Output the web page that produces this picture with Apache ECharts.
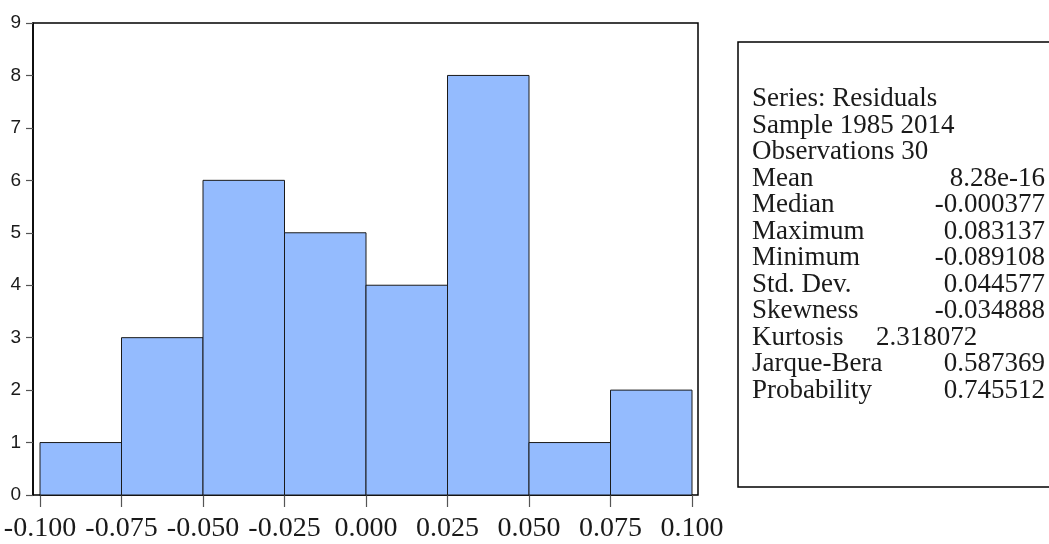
<!DOCTYPE html>
<html>
<head>
<meta charset="utf-8">
<script src="https://cdn.jsdelivr.net/npm/echarts@6/dist/echarts.min.js"></script>
<style>
  html, body { margin: 0; padding: 0; background: #fff; }
  #chart { width: 1049px; height: 544px; }
</style>
</head>
<body>
<div id="chart"></div>
<script>
// bin edges and counts of the residual histogram
const binStart = [-0.100, -0.075, -0.050, -0.025, 0.000, 0.025, 0.050, 0.075];
const binEnd = [-0.075, -0.050, -0.025, 0.000, 0.025, 0.050, 0.075, 0.100];
const counts = [1, 3, 6, 5, 4, 8, 1, 2];

// descriptive statistics panel
const statLabels = ["Series: Residuals", "Sample 1985 2014", "Observations 30", "Mean", "Median",
  "Maximum", "Minimum", "Std. Dev.", "Skewness", "Kurtosis", "Jarque-Bera", "Probability"];
const statValues = ["", "", "", "8.28e-16", "-0.000377", "0.083137", "-0.089108", "0.044577",
  "-0.034888", "2.318072", "0.587369", "0.745512"];

const serif = "'Liberation Serif', serif";

const chart = echarts.init(document.getElementById("chart"));

const histData = counts.map(function (c, i) { return [binStart[i], binEnd[i], c]; });

// stats text as graphic elements
const statGraphics = [{
  type: "rect",
  shape: { x: 738, y: 42, width: 330, height: 445 },
  style: { fill: "#fff", stroke: "#000", lineWidth: 1.5 }
}];
statLabels.forEach(function (lab, i) {
  const y = 99 + i * 26.5;
  statGraphics.push({
    type: "text", x: 752, y: y,
    style: { text: lab, font: "27px " + serif, fill: "#1a1a1a", verticalAlign: "middle", align: "left" }
  });
  if (statValues[i]) {
    const kurt = lab === "Kurtosis";
    statGraphics.push({
      type: "text", x: kurt ? 876 : 1045, y: y,
      style: { text: statValues[i], font: "27px " + serif, fill: "#1a1a1a", verticalAlign: "middle", align: kurt ? "left" : "right" }
    });
  }
});

const option = {
  animation: false,
  backgroundColor: "#fff",
  grid: [
    // frame + y axis
    { left: 33, right: 351, top: 23, bottom: 49, show: true, borderColor: "#000", borderWidth: 1.5, backgroundColor: "#fff" },
    // bars + x axis (bins span exactly -0.1 .. 0.1)
    { left: 40, right: 357, top: 23, bottom: 49 }
  ],
  xAxis: [{
    gridIndex: 0,
    type: "value",
    min: 0,
    max: 1,
    show: false
  }, {
    gridIndex: 1,
    type: "value",
    min: -0.1,
    max: 0.1,
    interval: 0.025,
    axisLine: { show: true, lineStyle: { color: "#000", width: 1.5 } },
    axisTick: { show: true, inside: false, length: 12, lineStyle: { color: "#555", width: 1.2 } },
    axisLabel: {
      margin: 20,
      color: "#1a1a1a",
      fontFamily: serif,
      fontSize: 28,
      showMinLabel: true,
      showMaxLabel: true,
      formatter: function (v) { return v.toFixed(3); }
    },
    splitLine: { show: false }
  }],
  yAxis: [{
    gridIndex: 0,
    type: "value",
    min: 0,
    max: 9,
    interval: 1,
    axisLine: { show: true, onZero: false, lineStyle: { color: "#000", width: 1.5 } },
    axisTick: { show: true, length: 7, lineStyle: { color: "#555", width: 1.2 } },
    axisLabel: { color: "#1a1a1a", fontFamily: "'Liberation Sans', Arial, sans-serif", fontSize: 19, margin: 12 },
    splitLine: { show: false }
  }, {
    gridIndex: 1,
    type: "value",
    min: 0,
    max: 9,
    show: false
  }],
  series: [{
    type: "custom",
    xAxisIndex: 1,
    yAxisIndex: 1,
    data: histData,
    encode: { x: [0, 1], y: 2 },
    renderItem: function (params, api) {
      const p0 = api.coord([api.value(0), api.value(2)]);
      const p1 = api.coord([api.value(1), 0]);
      return {
        type: "rect",
        shape: { x: p0[0], y: p0[1], width: p1[0] - p0[0], height: p1[1] - p0[1] },
        style: { fill: "#94bbfe", stroke: "#1a1a1a", lineWidth: 1 }
      };
    }
  }],
  graphic: statGraphics
};

chart.setOption(option);
</script>
</body>
</html>
